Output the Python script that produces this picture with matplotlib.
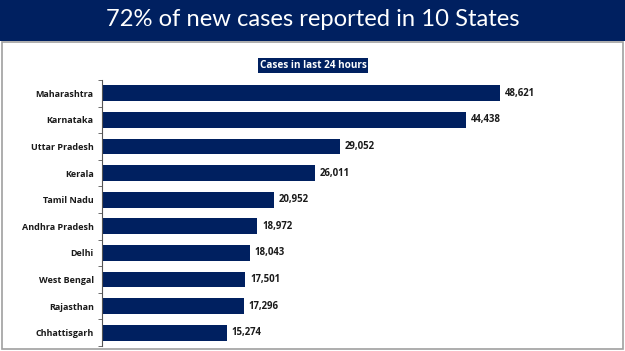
import numpy as np
import matplotlib.pyplot as plt
from matplotlib.patches import Rectangle

# --- dados ---
states = ["Maharashtra", "Karnataka", "Uttar Pradesh", "Kerala", "Tamil Nadu",
          "Andhra Pradesh", "Delhi", "West Bengal", "Rajasthan", "Chhattisgarh"]
cases = [48621, 44438, 29052, 26011, 20952, 18972, 18043, 17501, 17296, 15274]

title = "72% of new cases reported in 10 States"
subtitle = "Cases in last 24 hours"

navy = "#002060"
W, H = 625, 351
bold_font = "Open Sans"

fig = plt.figure(figsize=(W / 100, H / 100), dpi=100)
fig.patch.set_facecolor("white")

# faixa do título
fig.patches.append(Rectangle((0, 1 - 41 / H), 1, 41 / H, transform=fig.transFigure,
                             facecolor=navy, edgecolor="none", zorder=0))
# moldura cinza
fig.patches.append(Rectangle((2 / W, 2 / H), 621 / W, (H - 44) / H, transform=fig.transFigure,
                             facecolor="none", edgecolor="#a0a0a0", lw=1.2, zorder=1))
fig.text(313 / W, 1 - 20 / H, title, color="white", fontsize=17.1, family="Lato",
         ha="center", va="center")
fig.text(313 / W, 1 - 65 / H, subtitle, color="white", fontsize=7.2, family=bold_font,
         fontweight="bold", ha="center", va="center",
         bbox=dict(boxstyle="square,pad=0.2", facecolor=navy, edgecolor="none"))

# eixos
left, right = 102 / W, 624 / W
top, bottom = 1 - 80 / H, 1 - 346 / H
ax = fig.add_axes([left, bottom, right - left, top - bottom])
y = np.arange(len(states))
ax.barh(y, cases, height=0.6, color=navy)
ax.set_ylim(len(states) - 0.5, -0.5)
ax.set_xlim(0, 522 / (398 / 48621))
ax.set_yticks(y)
ax.set_yticklabels(states, fontsize=6.5, family=bold_font, fontweight="bold", color="#1a1a1a")
ax.set_yticks(np.arange(len(states) + 1) - 0.5, minor=True)
ax.tick_params(axis="y", which="major", length=0, pad=6)
ax.tick_params(axis="y", which="minor", length=3, color="#555555", direction="out")
ax.set_xticks([])
for s in ["top", "right", "bottom"]:
    ax.spines[s].set_visible(False)
ax.spines["left"].set_color("#555555")
ax.spines["left"].set_linewidth(0.8)

for yi, v in zip(y, cases):
    ax.text(v + 600, yi, f"{v:,}", va="center", ha="left", fontsize=6.9,
            family=bold_font, fontweight="bold", color="#1a1a1a")

fig.savefig("out.png", dpi=100)
